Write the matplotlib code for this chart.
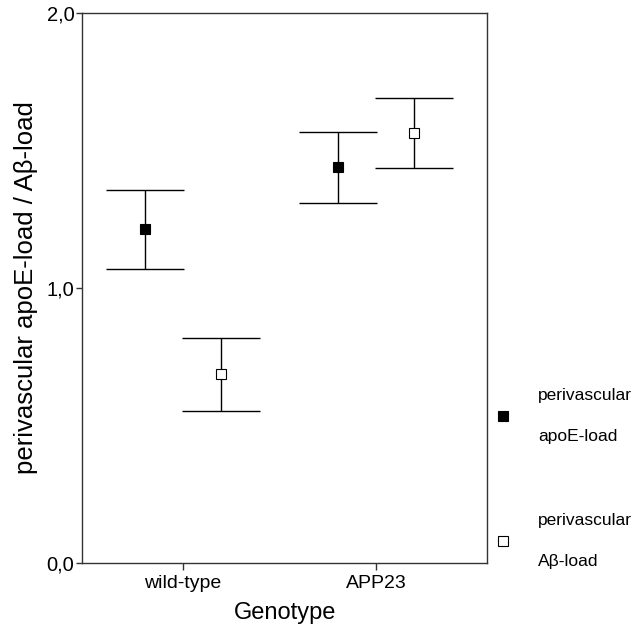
import numpy as np
import matplotlib
matplotlib.use('Agg')
import matplotlib.pyplot as plt
from matplotlib.lines import Line2D

plt.rcParams['font.family'] = ['Liberation Sans', 'DejaVu Sans']

genotypes = ['wild-type', 'APP23']
series = [('perivascular', 'apoE-load'), ('perivascular', 'A\u03b2-load')]

# means and lower / upper ends of the error bars, per series
means = [[1.215, 1.440],
         [0.687, 1.564]]
lower = [[1.069, 1.309],
         [0.553, 1.436]]
upper = [[1.356, 1.567],
         [0.818, 1.691]]

face = ['black', 'white']
offsets = [-0.195, 0.195]

fig = plt.figure(figsize=(6.36, 6.34), dpi=100)
ax = fig.add_axes([0.129, 0.112, 0.637, 0.868])

x = np.arange(1, len(genotypes) + 1)
for i in range(len(series)):
    m = np.array(means[i])
    err = [m - np.array(lower[i]), np.array(upper[i]) - m]
    ax.errorbar(x + offsets[i], m, yerr=err, fmt='none', ecolor='black',
                elinewidth=1, capsize=28, capthick=1)
    ax.plot(x + offsets[i], m, 's', ms=7, mfc=face[i], mec='black',
            mew=0.8, ls='none', zorder=3)

ax.set_xlim(0.477, 2.575)
ax.set_ylim(0, 2.0)
ax.set_xticks(x)
ax.set_xticklabels(genotypes, fontsize=14)
ax.set_yticks([0, 1, 2])
ax.set_yticklabels(['0,0', '1,0', '2,0'], fontsize=14.5)
ax.tick_params(axis='y', length=4, width=1, color='#333333', pad=1.5)
ax.tick_params(axis='x', length=5, width=1, color='#333333', pad=4)
for s in ax.spines.values():
    s.set_color('#333333')
    s.set_linewidth(1)

ax.set_xlabel('Genotype', fontsize=17, labelpad=7)
ax.set_ylabel('perivascular apoE-load / A\u03b2-load', fontsize=18.5, labelpad=6)

# legend drawn by hand, outside the axes on the right
leg_y = [0.344, 0.147]
for i, (l1, l2) in enumerate(series):
    fig.add_artist(Line2D([0.791], [leg_y[i]], marker='s', ms=7, mfc=face[i],
                          mec='black', mew=0.8, ls='none',
                          transform=fig.transFigure))
    fig.text(0.846, leg_y[i] + 0.032, l1, fontsize=12.5, va='center')
    fig.text(0.846, leg_y[i] - 0.032, l2, fontsize=12.5, va='center')

fig.savefig('out.png', dpi=100)
